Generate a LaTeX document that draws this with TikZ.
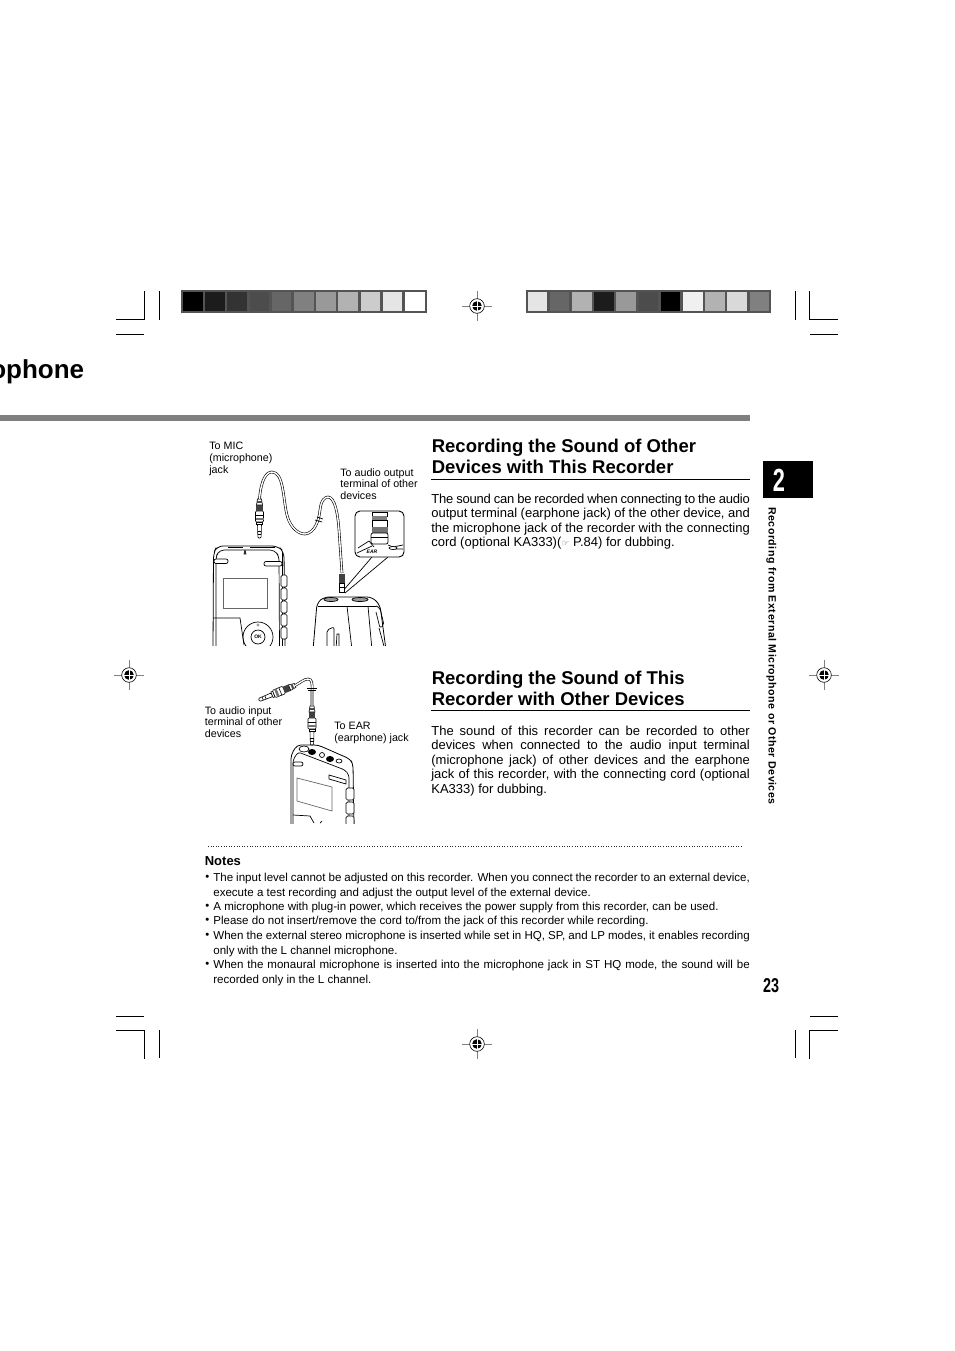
\documentclass[tikz,border=0pt]{standalone}
\usepackage{fontspec}
\usepackage{graphicx}
\setmainfont{Liberation Sans}
\newfontfamily\symfont{DejaVu Sans}
\usetikzlibrary{positioning}

\newcommand{\regmark}[1]{
  \draw[gray,line width=.7pt] (#1) ++(-15,0) -- ++(30,0) (#1) ++(0,-15) -- ++(0,30);
  \draw[fill=white,line width=.6pt] (#1) circle (7.3);
  \fill (#1) circle (4.8);
  \draw[white,line width=.9pt] (#1) ++(-5,0) -- ++(10,0) (#1) ++(0,-5) -- ++(0,10);
}
\newcommand{\plugdraw}[2]{
  \begin{scope}[shift={(#1)},rotate=#2,line width=.6pt]
    \draw[fill=white,rounded corners=1pt] (0,-1.6) -- (14,-2) -- (14,2) -- (0,1.6) -- cycle;
    \draw (4,-1.7) -- (4,1.7) (7,-1.8) -- (7,1.8);
    \draw[fill=white] (14,-3) rectangle (16,3);
    \draw[fill=white,rounded corners=1pt] (16,-4) rectangle (27,4);
    \fill[black!55] (18,-4) rectangle (20.5,4);
    \draw (23,-4) -- (23,4);
    \fill[black!75] (27,-3.4) rectangle (33,3.4);
    \draw[fill=white] (33,-3) -- (39,-2) -- (39,2) -- (33,3) -- cycle;
    \fill[black!70] (35,-2.5) rectangle (37,2.5);
  \end{scope}
}

\begin{document}
\begin{tikzpicture}[x=1pt,y=-1pt,line width=.7pt,
    label text/.style={font=\fontsize{10.7}{11.8}\selectfont,align=left,inner sep=0pt,anchor=north west},
    main head/.style={font=\fontsize{18.5}{21}\selectfont\bfseries,align=left,inner sep=0pt,anchor=north west},
    body text/.style={font=\fontsize{13}{14.5}\selectfont,text width=318.5pt,align=justify,inner sep=0pt,anchor=north west},
    note text/.style={font=\fontsize{11.55}{14.4}\selectfont,text width=536.5pt,align=justify,inner sep=0pt,anchor=north west},
    note dot/.style={font=\fontsize{11.3}{14.4}\selectfont,inner sep=0pt,anchor=north west},
    cord/.style={double=white,double distance=1.4pt,line width=.6pt}]

  \useasboundingbox (0,0) rectangle (954,1351);

  % colour bars
  \fill[black!67] (181,290) rectangle (427,313);
  \foreach \g [count=\i from 0] in {100,89,80,70,60,50,40,30,20,10,0}
    \fill[black!\g] (183+22.2*\i,292) rectangle +(19.6,19);
  \fill[black!67] (526,290) rectangle (771,313);
  \foreach \g [count=\i from 0] in {10,60,30,89,40,70,100,6,30,15,50}
    \fill[black!\g] (527.5+22.2*\i,292) rectangle +(19.6,19);

  % crop marks
  \draw (116,319.5) -- (144.5,319.5) -- (144.5,291) (159.5,291) -- (159.5,320) (116,334) -- (144,334);
  \draw (838,319.5) -- (809.5,319.5) -- (809.5,291) (795.5,291) -- (795.5,320) (838,334) -- (810,334);
  \draw (116,1030) -- (144.5,1030) -- (144.5,1058.5) (159.5,1030) -- (159.5,1058) (116,1016) -- (144,1016);
  \draw (838,1030) -- (809.5,1030) -- (809.5,1058.5) (795.5,1030) -- (795.5,1058) (838,1016) -- (810,1016);
  \regmark{477,306}
  \regmark{477,1044}
  \regmark{129,675}
  \regmark{824,675}

  % title and rule
  \node[font=\fontsize{26}{28}\selectfont\bfseries,inner sep=0pt,anchor=base east] (title) at (84.5,378) {ophone};
  \fill[black!50] (0,415) rectangle (750,421);

  % tab
  \node[fill=black,minimum width=50pt,minimum height=37pt,inner sep=0pt,anchor=north west] (tab) at (763,461) {};
  \node[text=white,font=\fontsize{32}{32}\selectfont\bfseries,inner sep=0pt] (tabnum) at (779,480) {\scalebox{.68}[1]{2}};
  \node[rotate=-90,font=\fontsize{10.6}{12}\selectfont\bfseries,inner sep=0pt,anchor=base west] (side) at (768.5,507)
    {\addfontfeature{LetterSpace=4.9}Recording from External Microphone or Other Devices};
  \node[font=\fontsize{20}{20}\selectfont\bfseries,inner sep=0pt] (page) at (771,986) {\scalebox{.72}[1]{23}};

  % first section
  \node[main head] (head1) at (431.5,439) {Recording the Sound of Other\\Devices with This Recorder};
  \draw (431,479.5) -- (750,479.5);
  \node[body text] (body1) at (431,493.5) {{\addfontfeature{LetterSpace=-1.5}The sound can be recorded when connecting to the audio}\linebreak
    output terminal (earphone jack) of the other device, and\linebreak
    the microphone jack of the recorder with the connecting\linebreak
    cord (optional KA333)({\symfont\fontsize{9}{9}\selectfont\textcolor{black!60}{☞}} P.84) for dubbing.};

  % second section
  \node[main head] (head2) at (431.5,671) {Recording the Sound of This\\Recorder with Other Devices};
  \draw (431,710.5) -- (750,710.5);
  \node[body text] (body2) at (431,725.5) {The sound of this recorder can be recorded to other\linebreak
    devices when connected to the audio input terminal\linebreak
    (microphone jack) of other devices and the earphone\linebreak
    jack of this recorder, with the connecting cord (optional\linebreak
    KA333) for dubbing.};

  % notes
  \draw[line width=.7pt,black!85,dash pattern=on .7pt off 1.9pt] (208,846) -- (742,846);
  \node[font=\fontsize{13}{14}\selectfont\bfseries,inner sep=0pt,anchor=north west] (notes) at (204.5,856) {Notes};
  \foreach \i/\y/\txt in {
    1/873/{The input level cannot be adjusted on this recorder. When you connect the recorder to an external device,\linebreak execute a test recording and adjust the output level of the external device.},
    2/902/{A microphone with plug-in power, which receives the power supply from this recorder, can be used.},
    3/916/{Please do not insert/remove the cord to/from the jack of this recorder while recording.},
    4/931/{When the external stereo microphone is inserted while set in HQ, SP, and LP modes, it enables recording\linebreak only with the L channel microphone.},
    5/960/{When the monaural microphone is inserted into the microphone jack in ST HQ mode, the sound will be\linebreak recorded only in the L channel.}} {
    \node[note dot] (dot\i) at (205,\y+1.5) {•};
    \node[note text] (note\i) at (213,\y) {\txt};
  }

  % labels
  \node[label text] (tomic) at (209,442) {To MIC\\(microphone)\\jack};
  \node[label text] (toout) at (340,468) {To audio output\\terminal of other\\devices};
  \node[label text] (toin) at (204.5,706) {To audio input\\terminal of other\\devices};
  \node[label text] (toear) at (334,722) {To EAR\\(earphone) jack};

  % upper picture
  \begin{scope}
    \clip (200,500) rectangle (425,645);
    % recorder
    \draw[rounded corners=6pt,line width=.8pt] (213,650) -- (213.5,553) -- (217,546) -- (278,546) -- (284,552) -- (285,650);
    \draw[rounded corners=4pt] (216,650) -- (216,556) -- (220,550) -- (274,550) -- (279,556) -- (279.5,650);
    \draw (282,552) -- (282,650);
    \draw (228,547.5) -- (243,547.5) (250,547.5) -- (275,547.5);
    \draw (245,550) -- (244,554) -- (246,554) -- (245,550);
    \draw[fill=white,rounded corners=2pt] (214,559) rectangle (228,563.5);
    \draw[fill=white,rounded corners=2pt] (264,561.5) rectangle (282,566);
    \draw[black!60] (223,578) rectangle (267,608);
    \foreach \y in {575,588,601,614,627}
      \draw[fill=white,rounded corners=1.5pt] (281,\y) rectangle +(6,12);
    \draw (213,618) -- (240,618) -- (244,645);
    \draw (258,637) circle (15) circle (7);
    \node[font=\fontsize{5}{5}\selectfont\bfseries,inner sep=0pt] (okkey) at (258,637) {OK};
    \node[font=\fontsize{6}{6}\selectfont,inner sep=0pt] (plus) at (258,626) {+};
    % other device
    \draw[rounded corners=5pt,line width=.8pt] (313,650) -- (317,603) -- (324,597) -- (372,597) -- (380,605) -- (386,650);
    \draw (318,606) -- (376,606);
    \draw[fill=black!40] (331,599.5) ellipse (7 and 2);
    \draw[fill=black!40] (360,599.5) ellipse (8 and 2);
    \draw[rounded corners=3pt] (347,606) -- (352,650) (368,606) -- (372,650);
    \draw[rounded corners=2pt] (327,650) -- (327,630) -- (334,627) -- (334,650);
    \draw (336,650) -- (337,634) -- (339,634) -- (339,650);
    \draw[rounded corners=2pt] (376,606) -- (380,608) -- (384,625) -- (380,628) -- (376,612);
    \draw (379,628) -- (385,650);
  \end{scope}
  % callout
  \draw (372,557) -- (342,592) (388,557) -- (345,593);
  \draw[fill=white,line width=.9pt,rounded corners=5pt] (355,511) rectangle (404,557);
  \begin{scope}
    \clip[rounded corners=5pt] (355,511) rectangle (404,557);
    \draw[fill=white] (372,512) rectangle (387,516);
    \fill[black!50] (372,516) rectangle (387,520);
    \draw[fill=white] (372,520) rectangle (387,527);
    \fill[black!55] (371.5,527) rectangle (387.5,533);
    \draw[fill=white,rounded corners=2pt] (371,533) rectangle (388,544);
    \draw (371,537) -- (388,537);
    \draw (358,548) -- (369,541) -- (374,547) (388,545) -- (393,547) -- (403,545);
    \draw (357,553) -- (372,546) (392,549) -- (403,549);
    \node[font=\fontsize{5}{5}\selectfont\bfseries\itshape,inner sep=0pt] (earmark) at (372,552) {EAR};
    \draw[fill=white] (393,548) ellipse (4 and 1.5);
  \end{scope}
  % cord
  \plugdraw{259.5,538}{90}
  \coordinate (micend) at (259.5,499);
  \coordinate (earend) at (342,573);
  \draw[cord] (micend) .. controls (261,480) and (266,472) .. (272,472)
    .. controls (284,472) and (283,500) .. (287,515)
    .. controls (291,530) and (300,534) .. (305,534)
    .. controls (315,533) and (319,520) .. (320,510)
    .. controls (321,500) and (325,497) .. (328,497)
    .. controls (335,497) and (338,515) .. (339,530)
    -- (earend);
  \draw (315,520) -- (322,522) (317,517) -- (323,519);
  \fill[black!75] (339,574) rectangle (345,583);
  \draw[fill=white] (339.5,583) rectangle (344.5,592);
  \draw (339.5,587) -- (344.5,587);

  % lower picture
  \begin{scope}
    \clip (200,740) rectangle (425,823);
    \draw[rounded corners=4pt,line width=.8pt] (291,830) -- (291,755) -- (297,745) -- (318,745) -- (350,759) -- (353,764) -- (354,830);
    \draw[rounded corners=3pt] (293,830) -- (293,760) -- (298,752) -- (345,770) -- (349,775) -- (349,830);
    \draw[black!60] (297,778) -- (332,787) -- (332,811) -- (297,801) -- cycle;
    \draw[fill=white] (304,749) ellipse (5 and 3);
    \fill (312,752) ellipse (4 and 3);
    \draw (322,755) circle (2.5);
    \fill (330,759) ellipse (4 and 3);
    \draw[fill=white] (339,761) ellipse (3 and 2);
    \draw[fill=white,rounded corners=2pt] (293,762) rectangle +(10,4);
    \draw[fill=white] (329,775) -- (346,780) -- (346,784) -- (329,779) -- cycle;
    \foreach \y in {788,802,816}
      \draw[fill=white,rounded corners=1.5pt] (346,\y) rectangle +(8,12);
    \draw (293,815) -- (310,816) -- (314,823);
    \draw (320,823) -- (322,821);
  \end{scope}
  \plugdraw{312,745}{90}
  \plugdraw{259,700}{22}
  \coordinate (plugup) at (312,706);
  \coordinate (plugleft) at (295,685.5);
  \draw[cord] (plugup) -- (312,692) .. controls (312.5,683) and (312,679) .. (308,679)
    .. controls (304,679) and (300,683) .. (plugleft);
  \draw (307,688) -- (317,688) (308,690) -- (316,690);
\end{tikzpicture}
\end{document}
